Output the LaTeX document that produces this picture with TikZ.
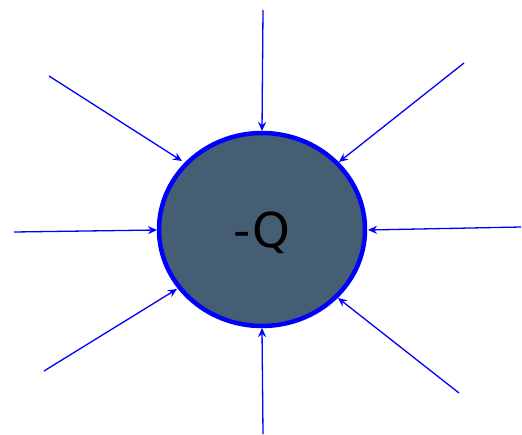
\documentclass[tikz,border=0pt]{standalone}
\usepackage{fontspec}
\newfontfamily\lblfont{DejaVu Sans}
\usetikzlibrary{shapes.geometric,arrows.meta}
\definecolor{chargefill}{HTML}{465E73}
\tikzset{
  charge/.style={ellipse, draw=blue, line width=4.5pt, fill=chargefill, minimum width=206pt, minimum height=193pt, inner sep=0pt},
  chargelabel/.style={font=\lblfont\fontsize{48}{48}\selectfont, inner sep=0pt},
  fieldline/.style={draw=blue, line width=1.3pt, -{Stealth[length=9pt,width=8pt,inset=3pt]}}
}
\begin{document}
\begin{tikzpicture}[x=1pt,y=-1pt]
\useasboundingbox (0,0) rectangle (522,434);
\node[charge] (c) at (262,229.5) {};
\node[chargelabel] (q) at (262,233) {-Q};
\coordinate (t) at (263,10);    \coordinate (te) at (262,131);
\coordinate (ur) at (464,63);   \coordinate (ure) at (339,162);
\coordinate (r) at (521,227);   \coordinate (re) at (368,230);
\coordinate (lr) at (459,393);  \coordinate (lre) at (338,298);
\coordinate (b) at (263,434);   \coordinate (be) at (262,328);
\coordinate (ll) at (44,371);   \coordinate (lle) at (177,289);
\coordinate (l) at (14,232);    \coordinate (le) at (157,230);
\coordinate (ul) at (49,76);    \coordinate (ule) at (182,161);
\foreach \p in {t,ur,r,lr,b,ll,l,ul} {
  \draw[fieldline] (\p) -- (\p e);
}
\end{tikzpicture}
\end{document}
